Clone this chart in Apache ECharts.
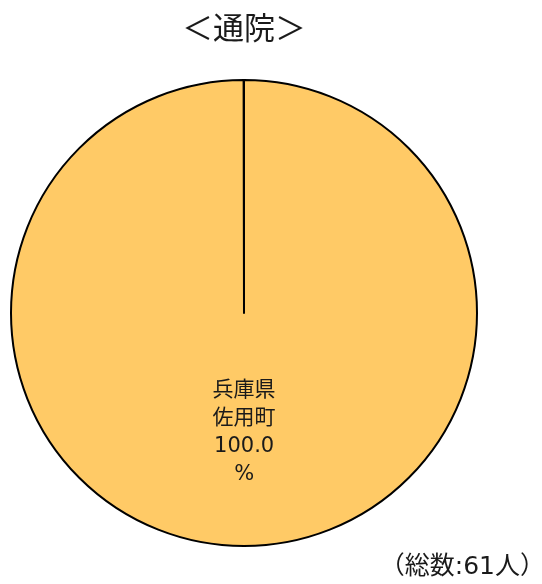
<!DOCTYPE html>
<html>
<head>
<meta charset="utf-8">
<script src="https://cdn.jsdelivr.net/npm/echarts@6/dist/echarts.min.js"></script>
<style>
  html, body { margin: 0; padding: 0; background: #fff; }
  #main { width: 542px; height: 584px; }
</style>
</head>
<body>
<div id="main"></div>
<script>
const title = '＜通院＞'
const total = '（総数:61人）'
const names = ['兵庫県\n佐用町']
const values = [100.0]

const font = '"DejaVu Sans", "Noto Sans CJK JP"'
const chart = echarts.init(document.getElementById('main'))

const option = {
    textStyle: { fontFamily: font },
    title: [
        {
            text: title,
            left: 239,
            top: 10,
            textAlign: 'center',
            textStyle: { fontSize: 31, fontWeight: 'normal', color: '#1a1a1a', fontFamily: font }
        },
        {
            text: total,
            right: -8,
            top: 550,
            textStyle: { fontSize: 25, fontWeight: 'normal', color: '#1a1a1a', fontFamily: font }
        }
    ],
    series: [
        {
            type: 'pie',
            center: [244, 313],
            radius: 233,
            startAngle: 90,
            endAngle: 90 - 359.9, // not a full circle, so the edge line from the centre shows
            clockwise: true,
            silent: true,
            itemStyle: { color: '#FFCA66', borderColor: '#000', borderWidth: 2 },
            label: {
                show: true,
                position: 'inside',
                formatter: p => p.name + '\n' + p.value.toFixed(1) + '\n%',
                fontSize: 21,
                lineHeight: 28,
                color: '#1a1a1a',
                fontFamily: font
            },
            labelLine: { show: false },
            data: names.map((n, i) => ({ name: n, value: values[i] }))
        }
    ]
}

chart.setOption(option)
</script>
</body>
</html>
